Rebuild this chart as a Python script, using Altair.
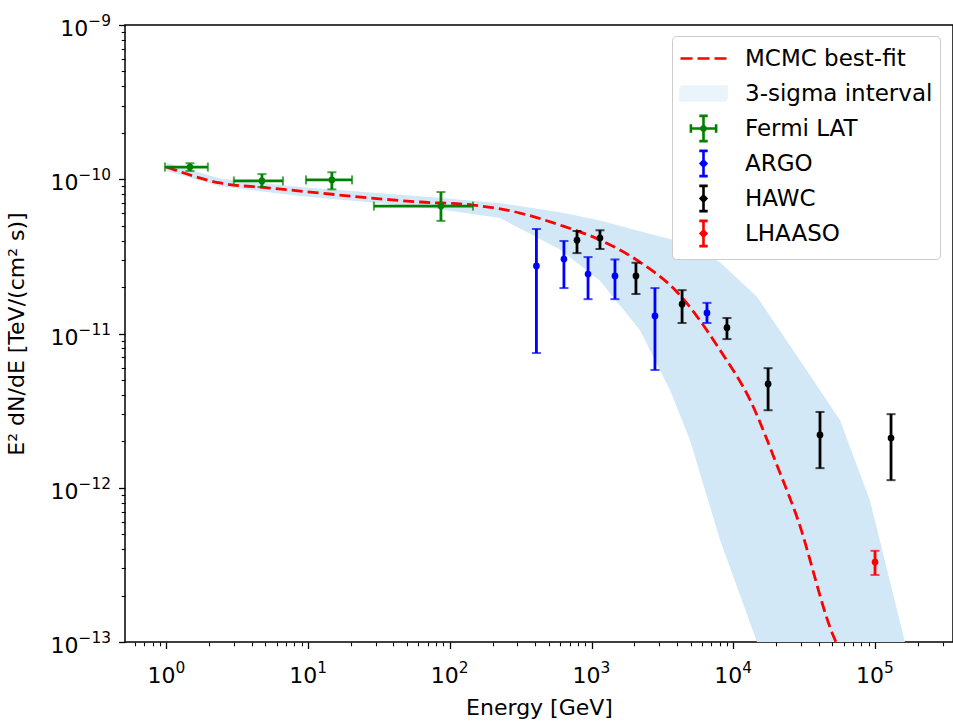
import altair as alt
import pandas as pd

# ---------------- data ----------------
series_names = ["MCMC best-fit", "3-sigma interval", "Fermi LAT", "ARGO", "HAWC", "LHAASO"]
series_colors = ["#ff0000", "#eaf4fb", "#008000", "#0000ff", "#000000", "#ff0000"]

# best-fit curve
curve_E = [1.0, 2.39, 5.38, 12.1, 27.3, 61.5, 145.5, 312.6, 598, 1146, 2090, 4005,
           8050, 13120, 21330, 28120, 50500, 53000]
curve_F = [1.2e-10, 9.46e-11, 8.77e-11, 8.14e-11, 7.56e-11, 7.12e-11, 6.8e-11,
           6.04e-11, 5.05e-11, 4.04e-11, 2.99e-11, 1.86e-11, 7.82e-12, 3.71e-12,
           1.25e-12, 6.47e-13, 1.11e-13, 1.0e-13]

# 3-sigma band
band_E = [1.0, 2.39, 8.75, 32.1, 85.1, 226, 598, 1146, 2194, 3573, 4944, 8050,
          14690, 29510, 56500, 92000, 162600]
band_hi = [1.28e-10, 1.01e-10, 8.9e-11, 8.1e-11, 7.6e-11, 7.0e-11, 6.1e-11, 5.4e-11,
           4.6e-11, 4.1e-11, 3.64e-11, 2.9e-11, 1.73e-11, 6.7e-12, 2.75e-12, 8.3e-13, 1.0e-13]
band_lo = [1.13e-10, 9.0e-11, 7.8e-11, 7.0e-11, 6.4e-11, 5.6e-11, 3.5e-11, 2.2e-11,
           1.05e-11, 4.3e-12, 2.04e-12, 4.6e-13, 1.0e-13, 1.0e-13, 1.0e-13, 1.0e-13, 1.0e-13]

# Fermi LAT
fermi_E = [1.465, 4.72, 14.7, 86.5]
fermi_Elo = [0.976, 2.99, 9.65, 29.1]
fermi_Ehi = [1.96, 6.64, 20.4, 145.5]
fermi_F = [1.2e-10, 9.75e-11, 9.9e-11, 6.7e-11]
fermi_lo = [1.13e-10, 8.9e-11, 8.6e-11, 5.37e-11]
fermi_hi = [1.27e-10, 1.08e-10, 1.11e-10, 8.26e-11]

# ARGO
argo_E = [408, 638, 944, 1462, 2800, 6520]
argo_F = [2.74e-11, 3.04e-11, 2.43e-11, 2.36e-11, 1.30e-11, 1.36e-11]
argo_lo = [7.47e-12, 1.97e-11, 1.67e-11, 1.67e-11, 5.8e-12, 1.17e-11]
argo_hi = [4.76e-11, 3.98e-11, 3.13e-11, 3.02e-11, 1.97e-11, 1.58e-11]

# HAWC
hawc_E = [789, 1146, 2056, 4350, 9020, 17600, 40900, 129700]
hawc_F = [4.03e-11, 4.16e-11, 2.36e-11, 1.55e-11, 1.09e-11, 4.71e-12, 2.2e-12, 2.1e-12]
hawc_lo = [3.32e-11, 3.53e-11, 1.80e-11, 1.17e-11, 9.2e-12, 3.18e-12, 1.34e-12, 1.12e-12]
hawc_hi = [4.62e-11, 4.67e-11, 2.87e-11, 1.91e-11, 1.26e-11, 5.96e-12, 3.1e-12, 3.0e-12]

# LHAASO
lhaaso_E = [1.0e5]
lhaaso_F = [3.3e-13]
lhaaso_lo = [2.72e-13]
lhaaso_hi = [3.9e-13]

# tick labels
x_major = [1, 10, 100, 1e3, 1e4, 1e5]
x_exp = ["0", "1", "2", "3", "4", "5"]
y_major = [1e-13, 1e-12, 1e-11, 1e-10, 1e-9]
y_exp = ["−13", "−12", "−11", "−10", "−9"]

# ---------------- tables ----------------
curve_df = pd.DataFrame({"E": curve_E, "F": curve_F})
band_df = pd.DataFrame({"E": band_E, "hi": band_hi, "lo": band_lo})


def block(name, E, F, lo, hi):
    return pd.DataFrame({"series": name, "E": E, "F": F, "lo": lo, "hi": hi})


pts_df = pd.concat([
    block("Fermi LAT", fermi_E, fermi_F, fermi_lo, fermi_hi),
    block("ARGO", argo_E, argo_F, argo_lo, argo_hi),
    block("HAWC", hawc_E, hawc_F, hawc_lo, hawc_hi),
    block("LHAASO", lhaaso_E, lhaaso_F, lhaaso_lo, lhaaso_hi),
], ignore_index=True)
fermi_df = pd.DataFrame({"series": "Fermi LAT", "E": fermi_E, "F": fermi_F,
                         "Elo": fermi_Elo, "Ehi": fermi_Ehi})
legend_df = pd.DataFrame({"series": series_names, "E": [10.0] * 6, "F": [1e-11] * 6})
xlab_df = pd.DataFrame({"v": x_major, "base": "10", "exp": x_exp})
ylab_df = pd.DataFrame({"v": y_major, "base": "10", "exp": y_exp})

# minor tick positions (axis decoration)
x_minor = [k * 10.0 ** d for d in range(-1, 6) for k in range(2, 10)
           if 0.51 <= k * 10.0 ** d <= 3.55e5]
y_minor = [k * 10.0 ** d for d in range(-13, -9) for k in range(2, 10)]

FONT = "DejaVu Sans"
FS = 22
FS_EXP = 15.4
xs = alt.Scale(type="log", domain=[0.51, 3.55e5], nice=False)
ys = alt.Scale(type="log", domain=[1e-13, 1e-9], nice=False)
cs = alt.Scale(domain=series_names, range=series_colors)

common_axis = dict(titleFont=FONT, titleFontSize=FS, titleColor="black",
                   titleFontWeight="normal", tickColor="black", tickWidth=1.3,
                   grid=False, domain=False, labels=False)

x_axis_main = alt.Axis(values=x_major, title="Energy [GeV]", orient="bottom", tickSize=6.5,
                       titleX=414, titleY=72, titleBaseline="alphabetic",
                       titleAlign="center", **common_axis)
y_axis_main = alt.Axis(values=y_major, title="E² dN/dE [TeV/(cm² s)]", orient="left",
                       tickSize=6.5, titleX=-109, titleY=308.5, titleAngle=270,
                       titleAlign="center", titleBaseline="middle", **common_axis)
x_axis_minor = alt.Axis(values=x_minor, labels=False, title=None, orient="bottom",
                        tickSize=3.8, tickColor="black", tickWidth=1.1, grid=False,
                        domain=False)
y_axis_minor = alt.Axis(values=y_minor, labels=False, title=None, orient="left",
                        tickSize=3.8, tickColor="black", tickWidth=1.1, grid=False,
                        domain=False)

band = alt.Chart(band_df).mark_area(color="#d2e8f7", clip=True).encode(
    x=alt.X("E:Q", scale=xs, axis=x_axis_main),
    y=alt.Y("hi:Q", scale=ys, axis=y_axis_main),
    y2="lo:Q",
)

curve = alt.Chart(curve_df).mark_line(color="#ff0000", strokeDash=[11, 5], strokeWidth=2.8,
                                      clip=True, interpolate="monotone").encode(
    x=alt.X("E:Q", scale=xs, axis=x_axis_minor),
    y=alt.Y("F:Q", scale=ys, axis=y_axis_minor),
)

col = alt.Color("series:N", scale=cs, legend=None)
X = lambda f: alt.X(f, scale=xs, axis=None)
Y = lambda f: alt.Y(f, scale=ys, axis=None)

err_y = alt.Chart(pts_df).mark_rule(strokeWidth=2.8, clip=True).encode(
    x=X("E:Q"), y=Y("lo:Q"), y2="hi:Q", color=col)
cap_lo = alt.Chart(pts_df).mark_tick(orient="horizontal", size=9, thickness=2, clip=True).encode(
    x=X("E:Q"), y=Y("lo:Q"), color=col)
cap_hi = alt.Chart(pts_df).mark_tick(orient="horizontal", size=9, thickness=2, clip=True).encode(
    x=X("E:Q"), y=Y("hi:Q"), color=col)

err_x = alt.Chart(fermi_df).mark_rule(strokeWidth=2.8, clip=True).encode(
    x=X("Elo:Q"), x2="Ehi:Q", y=Y("F:Q"), color=col)
capx_lo = alt.Chart(fermi_df).mark_tick(orient="vertical", size=9, thickness=2, clip=True).encode(
    x=X("Elo:Q"), y=Y("F:Q"), color=col)
capx_hi = alt.Chart(fermi_df).mark_tick(orient="vertical", size=9, thickness=2, clip=True).encode(
    x=X("Ehi:Q"), y=Y("F:Q"), color=col)

dots = alt.Chart(pts_df).mark_circle(size=45, opacity=1, clip=True).encode(
    x=X("E:Q"), y=Y("F:Q"), color=col)

# tick labels drawn as 10 + superscript exponent (mathtext look)
bottom = alt.YDatum(y_major[0], type="quantitative", scale=ys, axis=None)
xlab_base = alt.Chart(xlab_df).mark_text(align="right", baseline="alphabetic", dx=9, dy=41,
                                         font=FONT, fontSize=FS, color="black").encode(
    x=X("v:Q"), y=bottom, text="base:N")
xlab_exp = alt.Chart(xlab_df).mark_text(align="left", baseline="alphabetic", dx=9, dy=31,
                                        font=FONT, fontSize=FS_EXP, color="black").encode(
    x=X("v:Q"), y=bottom, text="exp:N")
ylab_base = alt.Chart(ylab_df).transform_calculate(
    px="-14 - (12.9 + 9.8 * (length(datum.exp) - 1))"
).mark_text(align="right", baseline="alphabetic", dy=11, font=FONT, fontSize=FS,
            color="black").encode(
    x=alt.X("px:Q", scale=None, axis=None), y=Y("v:Q"), text="base:N")
ylab_exp = alt.Chart(ylab_df).transform_calculate(
    px="-14 - (12.9 + 9.8 * (length(datum.exp) - 1))"
).mark_text(align="left", baseline="alphabetic", dy=1, font=FONT, fontSize=FS_EXP,
            color="black").encode(
    x=alt.X("px:Q", scale=None, axis=None), y=Y("v:Q"), text="exp:N")

# legend glyphs: unit = 14 px (symbol size 784); handle spans -1 .. 2.29.
# every glyph carries the same invisible zero-length corner segments so all rows get equal height
frame = "M-1,-0.9L-1,-0.9M2.286,0.9L2.286,0.9"
dot = "M0.643,-0.2L0.843,0L0.643,0.2L0.443,0Z"
vbar = "M0.643,-0.9L0.643,0.9M0.343,-0.9L0.943,-0.9M0.343,0.9L0.943,0.9"
hbar = "M-0.257,0L1.543,0M-0.257,-0.3L-0.257,0.3M1.543,-0.3L1.543,0.3"
legend_shapes = [
    frame + "M-1,0L-0.143,0M0.214,0L1.071,0M1.429,0L2.286,0",
    frame + "M-1,-0.5H2.286V-0.33H-1V-0.17H2.286V0H-1V0.17H2.286V0.33H-1V0.5H2.286",
    frame + vbar + hbar + dot,
    frame + vbar + dot,
    frame + vbar + dot,
    frame + vbar + dot,
]
leg = alt.Legend(title=None, orient="none", legendX=547, legendY=11,
                 labelFont=FONT, labelFontSize=23, labelColor="black",
                 symbolSize=784, symbolStrokeWidth=2.6, padding=7,
                 strokeColor="#cccccc", fillColor="white", cornerRadius=4,
                 rowPadding=-2, labelOffset=35, symbolLimit=0, labelLimit=300)

legend_layer = alt.Chart(legend_df).mark_point(filled=False, opacity=0, size=784,
                                               strokeWidth=2.6).encode(
    x=X("E:Q"), y=Y("F:Q"),
    color=alt.Color("series:N", scale=cs, legend=leg),
    shape=alt.Shape("series:N", scale=alt.Scale(domain=series_names, range=legend_shapes),
                    legend=leg),
)

chart = alt.layer(
    legend_layer, band, curve, err_y, cap_lo, cap_hi, err_x, capx_lo, capx_hi, dots,
    xlab_base, xlab_exp, ylab_base, ylab_exp
).resolve_axis(x="independent", y="independent").resolve_scale(
    color="independent", shape="independent"
).properties(
    width=828, height=617,
    autosize=alt.AutoSizeParams(type="none"),
    padding={"left": 125, "top": 25, "right": 0, "bottom": 79},
    background="white",
).configure_view(stroke="black", strokeWidth=1.5)

chart.save("out.html", embed_options={"renderer": "svg", "actions": False})
